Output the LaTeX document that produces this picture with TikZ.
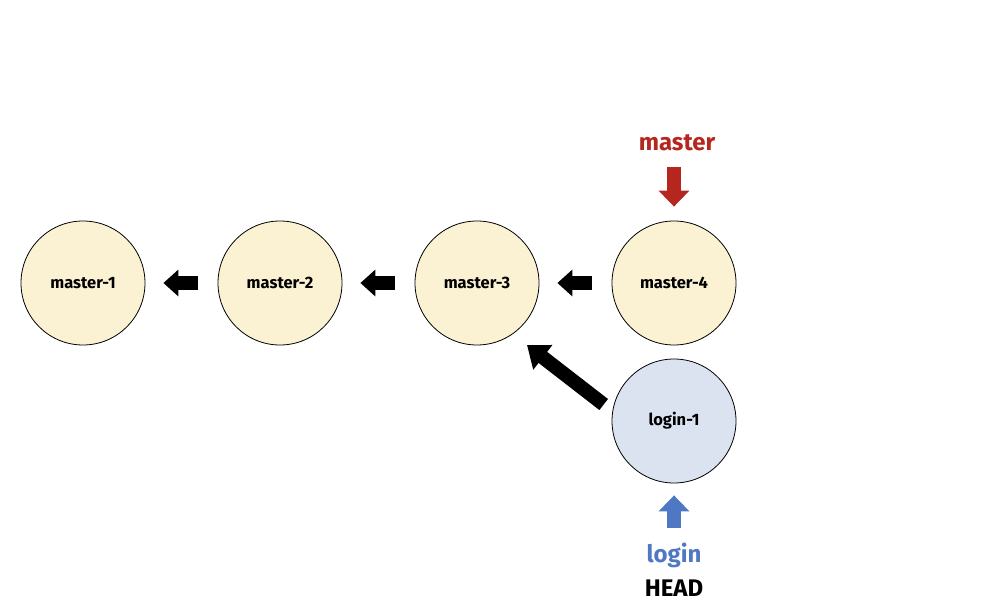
\documentclass[tikz,border=0pt]{standalone}
\usepackage{fontspec}
\setmainfont{Fira Sans}
\usetikzlibrary{arrows.meta}
\definecolor{cream}{HTML}{FBF1D3}
\definecolor{paleblue}{HTML}{DCE3F0}
\definecolor{gitred}{HTML}{B5261E}
\definecolor{gitblue}{HTML}{4F78C4}
\tikzset{
  commit/.style={circle, draw=black, line width=0.8pt, minimum size=124pt, inner sep=0pt, font=\fontsize{16.5}{18}\selectfont\bfseries},
  mcommit/.style={commit, fill=cream},
  lcommit/.style={commit, fill=paleblue},
  blockarrow/.style={line width=14pt, -{Triangle[width=26pt,length=15pt]}},
  bigarrow/.style={line width=14pt, -{Triangle[width=30pt,length=20pt]}},
  ptr/.style={line width=14pt, -{Triangle[width=30pt,length=16pt]}},
  lbl/.style={font=\fontsize{24}{26}\selectfont\bfseries, inner sep=0pt}
}
\begin{document}
\begin{tikzpicture}[x=1pt,y=-1pt]
\useasboundingbox (0,0) rectangle (984,604);
\node[mcommit] (m1) at (83,283) {master-1};
\node[mcommit] (m2) at (280,283) {master-2};
\node[mcommit] (m3) at (477,283) {master-3};
\node[mcommit] (m4) at (674,283) {master-4};
\node[lcommit] (l1) at (674,421) {login-1};

\node[lbl, text=gitred] (master) at (677,143) {master};
\node[lbl, text=gitblue] (login) at (674,555) {login};
\node[lbl] (head) at (674,588) {HEAD};

\draw[blockarrow, shorten <=20pt, shorten >=18pt] (m2) -- (m1);
\draw[blockarrow, shorten <=20pt, shorten >=18pt] (m3) -- (m2);
\draw[blockarrow, shorten <=20pt, shorten >=18pt] (m4) -- (m3);
\draw[bigarrow, shorten <=11pt, shorten >=18pt] (l1.171) -- (m3.305);

\draw[ptr, gitred, shorten <=16pt, shorten >=14pt] (master.south -| m4.north) -- (m4.north);
\draw[ptr, gitblue, shorten <=14pt, shorten >=12pt] (login.north -| l1.south) -- (l1.south);
\end{tikzpicture}
\end{document}
